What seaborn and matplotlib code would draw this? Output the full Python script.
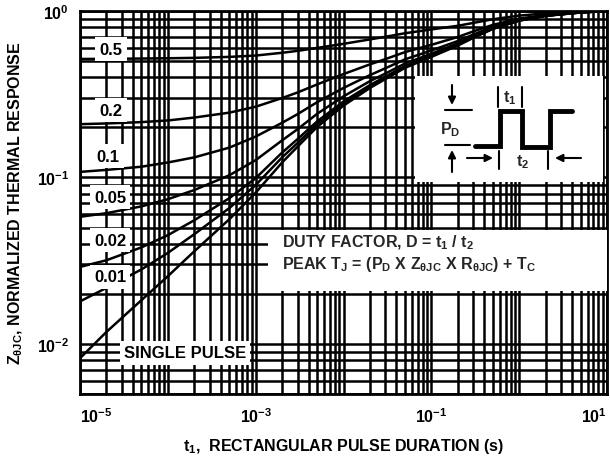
import numpy as np
import pandas as pd
import matplotlib
matplotlib.use("Agg")
import matplotlib.pyplot as plt
import seaborn as sns
from matplotlib.ticker import LogLocator, NullFormatter, FixedLocator, FixedFormatter
from matplotlib.patches import Rectangle

# ---------------- data ----------------
t_pulse = [1e-5, 2e-5, 5e-5, 1e-4, 2e-4, 5e-4, 1e-3, 2e-3, 3e-3, 5e-3,
           1e-2, 2e-2, 3e-2, 5e-2, 1e-1, 2e-1, 3e-1, 5e-1, 1, 2, 5, 10]

z_d050 = [0.515, 0.516, 0.518, 0.520, 0.523, 0.530, 0.540, 0.561, 0.576, 0.600,
          0.635, 0.675, 0.700, 0.735, 0.775, 0.815, 0.848, 0.892, 0.938, 0.968, 0.990, 1.0]
z_d020 = [0.209, 0.211, 0.215, 0.220, 0.229, 0.245, 0.266, 0.300, 0.324, 0.362,
          0.418, 0.478, 0.514, 0.566, 0.626, 0.698, 0.754, 0.825, 0.900, 0.948, 0.984, 1.0]
z_d010 = [0.108, 0.111, 0.116, 0.123, 0.132, 0.151, 0.176, 0.213, 0.240, 0.283,
          0.345, 0.412, 0.453, 0.512, 0.579, 0.660, 0.722, 0.803, 0.887, 0.940, 0.982, 1.0]
z_d005 = [0.058, 0.061, 0.067, 0.074, 0.084, 0.103, 0.127, 0.167, 0.195, 0.241,
          0.307, 0.379, 0.421, 0.483, 0.554, 0.640, 0.706, 0.792, 0.881, 0.938, 0.981, 1.0]
z_d002 = [0.029, 0.0318, 0.038, 0.045, 0.0553, 0.075, 0.099, 0.141, 0.170, 0.217,
          0.286, 0.359, 0.403, 0.467, 0.540, 0.629, 0.697, 0.785, 0.878, 0.936, 0.980, 1.0]
z_d001 = [0.018, 0.0217, 0.028, 0.0352, 0.0456, 0.0654, 0.090, 0.132, 0.161, 0.209,
          0.278, 0.353, 0.397, 0.461, 0.535, 0.624, 0.693, 0.782, 0.876, 0.936, 0.980, 1.0]
z_single = [0.0082, 0.0118, 0.0183, 0.0255, 0.036, 0.056, 0.081, 0.123, 0.153, 0.201,
            0.270, 0.345, 0.390, 0.455, 0.530, 0.620, 0.690, 0.780, 0.875, 0.935, 0.980, 1.0]

series = {"0.5": z_d050, "0.2": z_d020, "0.1": z_d010, "0.05": z_d005,
          "0.02": z_d002, "0.01": z_d001, "SINGLE PULSE": z_single}

x_ticks = [1e-5, 1e-4, 1e-3, 1e-2, 1e-1, 1, 10]
x_tick_labels = [r"$10^{-5}$", "", r"$10^{-3}$", "", r"$10^{-1}$", "", r"$10^{1}$"]
y_ticks = [1e-2, 1e-1, 1]
y_tick_labels = [r"$10^{-2}$", r"$10^{-1}$", r"$10^{0}$"]

# ---------------- style ----------------
sns.set_theme(style="white")
plt.rcParams["font.family"] = ["Liberation Sans", "DejaVu Sans"]
plt.rcParams["font.weight"] = "bold"
plt.rcParams["mathtext.fontset"] = "custom"
plt.rcParams["mathtext.rm"] = "Liberation Sans:bold"
plt.rcParams["mathtext.it"] = "Liberation Sans:bold"
plt.rcParams["mathtext.bf"] = "Liberation Sans:bold"
plt.rcParams["mathtext.default"] = "rm"

df = pd.concat([pd.DataFrame({"t": t_pulse, "z": v, "D": k}) for k, v in series.items()],
               ignore_index=True)

fig = plt.figure(figsize=(6.1, 4.6), dpi=100)
ax = fig.add_axes([80 / 610, 1 - 395 / 460, 527 / 610, 383 / 460])

sns.lineplot(data=df, x="t", y="z", hue="D", palette={k: "black" for k in series},
             estimator=None, sort=False, legend=False, linewidth=1.8, ax=ax, zorder=3)

ax.set_xscale("log")
ax.set_yscale("log")
ax.set_xlim(1e-5, 10)
ax.set_ylim(0.005, 1.0)

ax.xaxis.set_major_locator(FixedLocator(x_ticks))
ax.xaxis.set_major_formatter(FixedFormatter(x_tick_labels))
ax.xaxis.set_minor_locator(LogLocator(base=10, subs=np.arange(2, 10)))
ax.xaxis.set_minor_formatter(NullFormatter())
ax.yaxis.set_major_locator(FixedLocator(y_ticks))
ax.yaxis.set_major_formatter(FixedFormatter(y_tick_labels))
ax.yaxis.set_minor_locator(LogLocator(base=10, subs=np.arange(2, 10)))
ax.yaxis.set_minor_formatter(NullFormatter())

ax.grid(True, which="both", color="black", linewidth=1.8)
ax.set_axisbelow(True)
for s in ax.spines.values():
    s.set_color("black")
    s.set_linewidth(2.0)
ax.tick_params(which="both", length=0, labelsize=11.5, colors="black")
ax.tick_params(axis="x", pad=9)
ax.tick_params(axis="y", pad=8)
xl = ax.get_xticklabels()
xl[0].set_ha("left")
xl[-1].set_ha("right")

ax.set_xlabel(r"$t_1$,  RECTANGULAR PULSE DURATION (s)", fontsize=11.5,
              fontweight="bold", color="black", labelpad=8)
ax.set_ylabel(r"$Z_{θJC}$, NORMALIZED THERMAL RESPONSE", fontsize=11.5,
              fontweight="bold", color="black", labelpad=8)


def P(px, py):
    return ((px - 80) / 527, (395 - py) / 383)


# curve labels on white boxes
lab_pos = {"0.5": (111, 50), "0.2": (111, 111), "0.1": (108, 157), "0.05": (110, 198),
           "0.02": (110, 241), "0.01": (110, 278), "SINGLE PULSE": (185, 354)}
for k, (px, py) in lab_pos.items():
    ax.text(*P(px, py), k, transform=ax.transAxes, ha="center", va="center",
            fontsize=12, fontweight="bold", color="black", zorder=6,
            bbox=dict(boxstyle="square,pad=0.25", fc="white", ec="none"))

# duty factor box
x0, y0 = P(268, 292)
x1, y1 = P(607, 231)
ax.add_patch(Rectangle((x0, y0), x1 - x0, y1 - y0, transform=ax.transAxes,
                       fc="white", ec="none", zorder=4))
ax.text(*P(282, 243), r"DUTY FACTOR, D = $t_1$ / $t_2$", transform=ax.transAxes,
        ha="left", va="center", fontsize=11.5, fontweight="bold", zorder=6)
ax.text(*P(282, 264), r"PEAK $T_J$ = ($P_D$ X $Z_{θJC}$ X $R_{θJC}$) + $T_C$",
        transform=ax.transAxes, ha="left", va="center", fontsize=11.5,
        fontweight="bold", zorder=6)

# inset pulse diagram
x0, y0 = P(415, 183)
x1, y1 = P(603, 77)
ax.add_patch(Rectangle((x0, y0), x1 - x0, y1 - y0, transform=ax.transAxes,
                       fc="white", ec="none", zorder=4))
wave_px = [475, 500, 500, 522, 522, 550, 550, 572]
wave_py = [147, 147, 112, 112, 148, 148, 112, 112]
wx, wy = zip(*[P(a, b) for a, b in zip(wave_px, wave_py)])
ax.plot(wx, wy, color="black", lw=3.5, transform=ax.transAxes, zorder=5,
        solid_joinstyle="miter")


def seg(a, b, lw=1.5):
    (xa, ya), (xb, yb) = P(*a), P(*b)
    ax.plot([xa, xb], [ya, yb], color="black", lw=lw, transform=ax.transAxes, zorder=5)


def arrow(tail, head):
    ax.annotate("", xy=P(*head), xytext=P(*tail), xycoords="axes fraction",
                textcoords="axes fraction", zorder=5,
                arrowprops=dict(arrowstyle="-|>", color="black", lw=1.5,
                                mutation_scale=11, shrinkA=0, shrinkB=0))


seg((445, 111), (472, 111))
seg((445, 146), (470, 146))
arrow((452, 86), (452, 106))
arrow((452, 173), (452, 151))
seg((498, 88), (498, 108))
seg((522, 88), (522, 108))
seg((499, 152), (499, 170))
seg((548, 152), (548, 170))
arrow((467, 159), (493, 159))
arrow((581, 159), (555, 159))
ax.text(*P(510, 98), r"$t_1$", transform=ax.transAxes, ha="center", va="center",
        fontsize=11.5, zorder=6)
ax.text(*P(523, 162), r"$t_2$", transform=ax.transAxes, ha="center", va="center",
        fontsize=11.5, zorder=6)
ax.text(*P(450, 130), r"$P_D$", transform=ax.transAxes, ha="center", va="center",
        fontsize=11.5, zorder=6)

fig.savefig("out.png", dpi=100)
